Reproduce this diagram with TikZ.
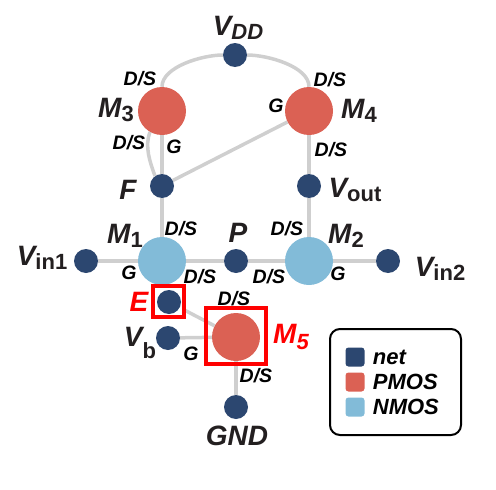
\documentclass[tikz,border=0pt]{standalone}
\usepackage{fontspec}
\setmainfont{Liberation Sans}
\usetikzlibrary{positioning,backgrounds}
\definecolor{netblue}{HTML}{2C4770}
\definecolor{pmosred}{HTML}{DB6154}
\definecolor{nmosblue}{HTML}{82BBD8}
\definecolor{wiregray}{HTML}{CFCFCF}
\definecolor{labelblack}{HTML}{231F20}
\newcommand{\subname}[3][-4pt]{#2\raisebox{#1}{\fontsize{22}{22}\selectfont #3}}
\begin{document}
\begin{tikzpicture}[
        x=1pt, y=-1pt,
        net_node/.style={circle, fill=netblue, inner sep=0pt, minimum size=24pt},
        pmos_node/.style={circle, fill=pmosred, inner sep=0pt, minimum size=48pt},
        nmos_node/.style={circle, fill=nmosblue, inner sep=0pt, minimum size=48pt},
        wire/.style={draw=wiregray, line width=3.5pt},
        pin_label/.style={inner sep=0pt, text=black, font=\fontsize{19.5}{19.5}\selectfont\bfseries\itshape},
        name_label/.style={inner sep=0pt, text=labelblack, font=\fontsize{28}{28}\selectfont\bfseries\itshape},
        mark_box/.style={draw=red, line width=4pt, inner sep=0pt},
        key_box/.style={rectangle, rounded corners=3pt, inner sep=0pt, minimum size=19pt},
        key_label/.style={inner sep=0pt, text=black, font=\fontsize{22}{22}\selectfont\bfseries\itshape}
    ]
        \useasboundingbox (0,0) rectangle (496,490);
        % Transistors
        \node[pmos_node] (M3) at (162,111) {};
        \node[pmos_node] (M4) at (309,111) {};
        \node[nmos_node] (M1) at (162,261) {};
        \node[nmos_node] (M2) at (309,261) {};
        \node[pmos_node] (M5) at (236,337) {};
        % Red marks
        \node[mark_box, fill=white, minimum size=31pt] (E_box) at (168.5,301.5) {};
        \node[mark_box, minimum width=60pt, minimum height=56pt] (M5_box) at (236,336) {};
        % Nets
        \node[net_node] (VDD) at (235,55) {};
        \node[net_node] (F) at (162,186) {};
        \node[net_node] (Vout) at (309,186) {};
        \node[net_node] (P) at (236,261) {};
        \node[net_node] (Vin1) at (86,261) {};
        \node[net_node] (Vin2) at (388,261) {};
        \node[net_node] (E) at (169,302) {};
        \node[net_node] (Vb) at (168,338) {};
        \node[net_node] (GND) at (236,407) {};
        % Wires
        \begin{scope}[on background layer]
            \draw[wire] (VDD) to[out=180, in=90, looseness=0.75] (M3);
            \draw[wire] (VDD) to[out=0, in=90, looseness=0.75] (M4);
            \draw[wire] (M3) -- (F);
            \draw[wire] (M3.240) to[out=250, in=110, looseness=0.9] (F.125);
            \draw[wire] (F) -- (M4);
            \draw[wire] (F) -- (M1);
            \draw[wire] (M4) -- (Vout);
            \draw[wire] (Vout) -- (M2);
            \draw[wire] (Vin1) -- (M1);
            \draw[wire] (M1) -- (P);
            \draw[wire] (P) -- (M2);
            \draw[wire] (M2) -- (Vin2);
            \draw[wire] (E) -- (M5);
            \draw[wire] (Vb) -- (M5);
            \draw[wire] (M5) -- (GND);
        \end{scope}
        % Names
        \node[name_label] (VDD_name) at (238,28) {\subname{V}{DD}};
        \node[name_label] (M3_name) at (116,110) {\subname{M}{\upshape 3}};
        \node[name_label] (M4_name) at (359,111) {\subname{M}{\upshape 4}};
        \node[name_label] (M1_name) at (125,236) {\subname{M}{\upshape 1}};
        \node[name_label] (M2_name) at (346,236) {\subname{M}{\upshape 2}};
        \node[name_label] (F_name) at (128,190) {F};
        \node[name_label] (Vout_name) at (355,190) {\subname{V}{\upshape out}};
        \node[name_label] (P_name) at (238,233) {P};
        \node[name_label] (Vin1_name) at (42,258) {\subname{V}{\upshape in1}};
        \node[name_label] (Vin2_name) at (440,269) {\subname{V}{\upshape in2}};
        \node[name_label] (Vb_name) at (140,343) {\subname[-12pt]{V}{\upshape b}};
        \node[name_label] (GND_name) at (237,436) {GND};
        \node[name_label, text=red] (E_name) at (139,302) {E};
        \node[name_label, text=red] (M5_name) at (291,337) {\subname[-6pt]{M}{5}};
        % Pin labels
        \node[pin_label] (M3_top) at (140,79) {D/S};
        \node[pin_label] (M3_low) at (129,143) {D/S};
        \node[pin_label] (M3_g) at (174,147) {G};
        \node[pin_label] (M4_top) at (330,80) {D/S};
        \node[pin_label] (M4_g) at (276,106) {G};
        \node[pin_label] (M4_low) at (331,150) {D/S};
        \node[pin_label] (M1_top) at (181,229) {D/S};
        \node[pin_label] (M1_g) at (129,273) {G};
        \node[pin_label] (M1_right) at (200,277) {D/S};
        \node[pin_label] (M2_top) at (287,229) {D/S};
        \node[pin_label] (M2_left) at (269,277) {D/S};
        \node[pin_label] (M2_g) at (338,274) {G};
        \node[pin_label] (M5_top) at (234,299) {D/S};
        \node[pin_label] (M5_g) at (191,354) {G};
        \node[pin_label] (M5_low) at (256,376) {D/S};
        % Legend
        \node[draw, line width=2pt, rounded corners=10pt, inner sep=0pt, minimum width=131pt, minimum height=106pt] (legend_box) at (395.5,382) {};
        \node[key_box, fill=netblue] (key_net) at (355,357) {};
        \node[key_box, fill=pmosred] (key_pmos) at (355,382) {};
        \node[key_box, fill=nmosblue] (key_nmos) at (355,407) {};
        \node[key_label, right=8pt of key_net] (net_text) {net};
        \node[key_label, right=8pt of key_pmos] (pmos_text) {PMOS};
        \node[key_label, right=8pt of key_nmos] (nmos_text) {NMOS};
    \end{tikzpicture}
\end{document}
